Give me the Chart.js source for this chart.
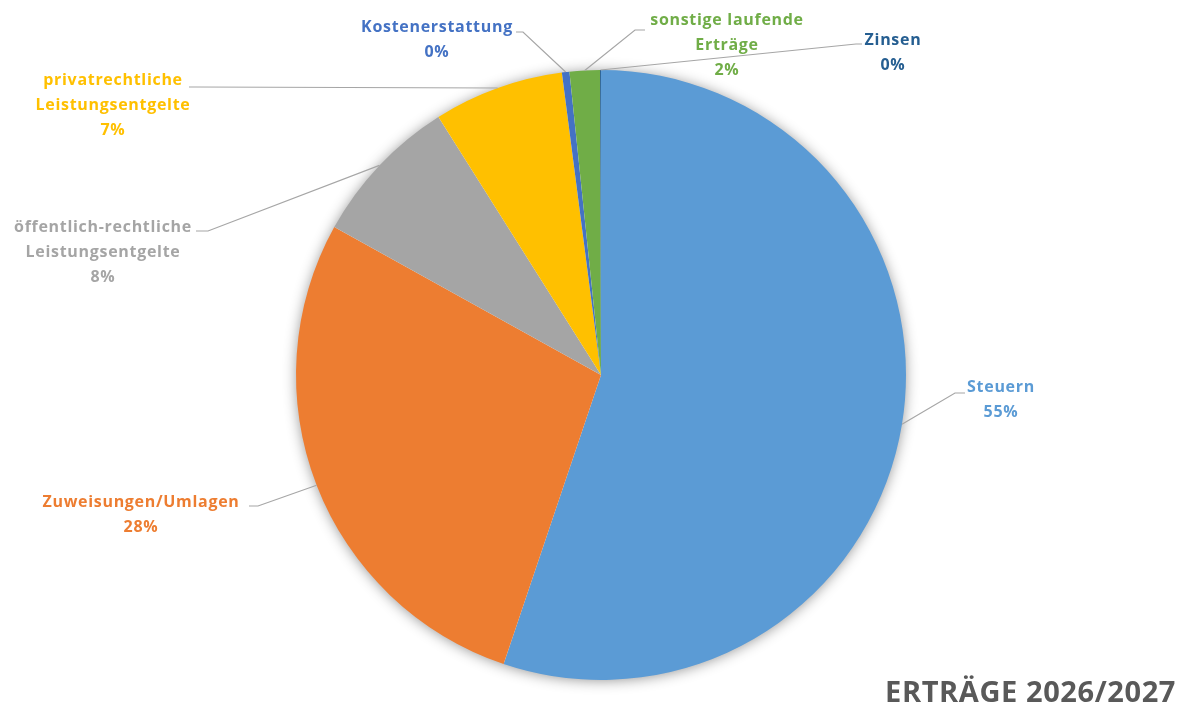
<!DOCTYPE html>
<html lang="de">
<head>
    <meta charset="UTF-8">
    <title>Erträge 2026/2027</title>
    <script src="https://cdn.jsdelivr.net/npm/chart.js"></script>
    <style>
        html, body {
            margin: 0;
            padding: 0;
            background: #fff;
        }
        #wrap {
            width: 1182px;
            height: 707px;
            position: relative;
        }
    </style>
</head>
<body>
    <div id="wrap">
        <canvas id="pie" width="1182" height="707"></canvas>
    </div>

    <script>
        // data (shares in %)
        const categories = [
            'Steuern',
            'Zuweisungen/Umlagen',
            'öffentlich-rechtliche Leistungsentgelte',
            'privatrechtliche Leistungsentgelte',
            'Kostenerstattung',
            'sonstige laufende Erträge',
            'Zinsen'
        ];
        const shares = [55.2, 27.9, 8.0, 6.9, 0.4, 1.6, 0.05];
        const sliceColors = ['#5b9bd5', '#ed7d31', '#a5a5a5', '#ffc000', '#4472c4', '#70ad47', '#255e91'];
        const chartTitle = 'ERTRÄGE 2026/2027';

        // label text lines + where they sit on the canvas
        const labelLines = [
            ['Steuern'],
            ['Zuweisungen/Umlagen'],
            ['öffentlich-rechtliche', 'Leistungsentgelte'],
            ['privatrechtliche', 'Leistungsentgelte'],
            ['Kostenerstattung'],
            ['sonstige laufende', 'Erträge'],
            ['Zinsen']
        ];
        // x,y = centre of first text line; lineY = y of horizontal leader piece;
        // from/to = x range of the horizontal piece (to = elbow)
        const labelLayout = [
            { x: 1001, y: 387, lineY: 393, from: 965, to: 955 },
            { x: 141, y: 502, lineY: 506, from: 249, to: 258 },
            { x: 103, y: 227, lineY: 231, from: 196, to: 208 },
            { x: 113, y: 80, lineY: 87, from: 189, to: 196 },
            { x: 437, y: 27, lineY: 32, from: 516, to: 523 },
            { x: 727, y: 20, lineY: 30, from: 645, to: 635 },
            { x: 893, y: 40, lineY: 44, from: 862, to: 856 }
        ];

        const labelFont = 'bold 16px "Open Sans", Lato, sans-serif';
        const lineGap = 25;

        const total = shares.reduce((a, b) => a + b, 0);

        const shadowPlugin = {
            id: 'pieShadow',
            beforeDatasetsDraw(chart) {
                const arc = chart.getDatasetMeta(0).data[0];
                if (!arc) return;
                const ctx = chart.ctx;
                ctx.save();
                ctx.shadowColor = 'rgba(0,0,0,0.45)';
                ctx.shadowBlur = 14;
                ctx.shadowOffsetX = 0;
                ctx.shadowOffsetY = 1;
                ctx.fillStyle = '#ffffff';
                ctx.beginPath();
                ctx.arc(arc.x, arc.y, arc.outerRadius - 1, 0, Math.PI * 2);
                ctx.fill();
                ctx.restore();
            }
        };

        const labelPlugin = {
            id: 'pieLabels',
            afterDatasetsDraw(chart) {
                const ctx = chart.ctx;
                const arcs = chart.getDatasetMeta(0).data;
                ctx.save();

                arcs.forEach((arc, i) => {
                    const lay = labelLayout[i];
                    const mid = (arc.startAngle + arc.endAngle) / 2;
                    const ex = arc.x + Math.cos(mid) * arc.outerRadius;
                    const ey = arc.y + Math.sin(mid) * arc.outerRadius;

                    // leader line
                    ctx.strokeStyle = '#a6a6a6';
                    ctx.lineWidth = 1.2;
                    ctx.beginPath();
                    ctx.moveTo(lay.from, lay.lineY);
                    ctx.lineTo(lay.to, lay.lineY);
                    ctx.lineTo(ex, ey);
                    ctx.stroke();

                    // text
                    const lines = labelLines[i].concat([Math.round(shares[i] / total * 100) + '%']);
                    ctx.font = labelFont;
                    ctx.letterSpacing = '0.7px';
                    ctx.fillStyle = sliceColors[i];
                    ctx.textAlign = 'center';
                    ctx.textBaseline = 'middle';
                    lines.forEach((t, k) => {
                        ctx.fillText(t, lay.x, lay.y + k * lineGap);
                    });
                });

                // title bottom right
                ctx.font = 'bold 29px "Open Sans", Lato, sans-serif';
                ctx.letterSpacing = '0.6px';
                ctx.fillStyle = '#595959';
                ctx.textAlign = 'right';
                ctx.textBaseline = 'alphabetic';
                ctx.fillText(chartTitle, 1176, 702);

                ctx.restore();
            }
        };

        new Chart(document.getElementById('pie'), {
            type: 'pie',
            data: {
                labels: categories,
                datasets: [{
                    data: shares,
                    backgroundColor: sliceColors,
                    borderWidth: 0
                }]
            },
            options: {
                responsive: false,
                animation: false,
                rotation: 0,
                layout: {
                    padding: { left: 296, right: 276, top: 70, bottom: 27 }
                },
                plugins: {
                    legend: { display: false },
                    tooltip: { enabled: false },
                    title: { display: false }
                }
            },
            plugins: [shadowPlugin, labelPlugin]
        });
    </script>
</body>
</html>
